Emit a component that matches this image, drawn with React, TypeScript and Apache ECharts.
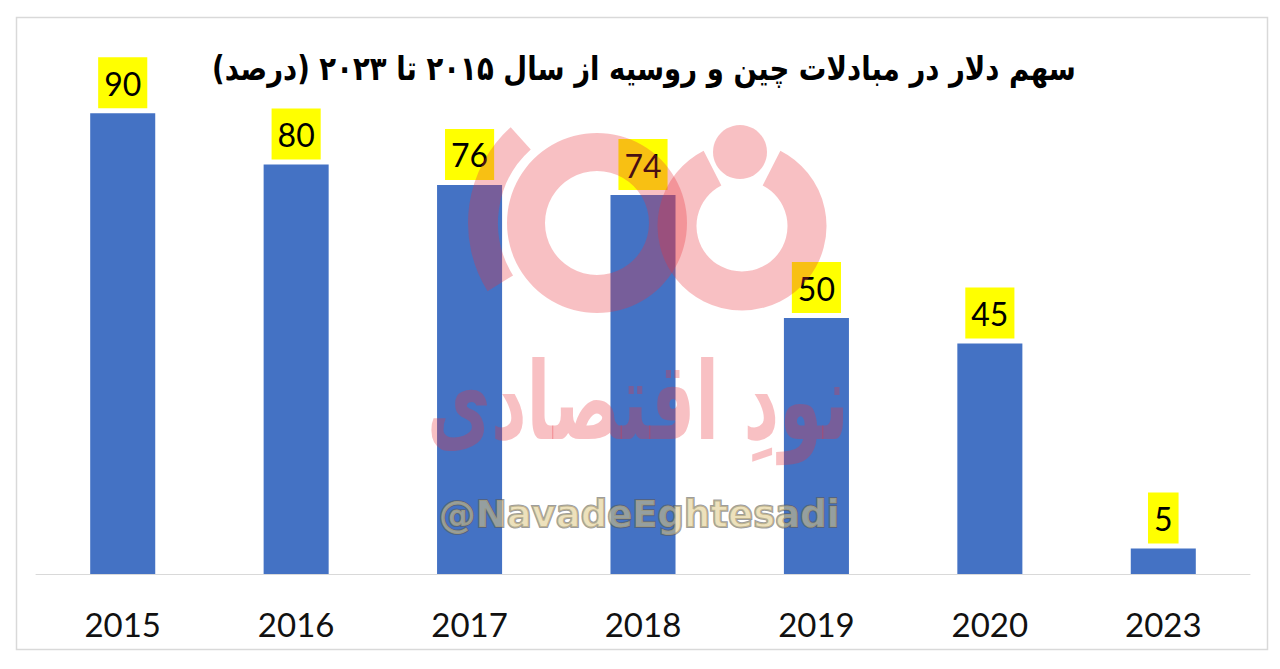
import React, { useEffect, useRef } from "react";
import * as echarts from "echarts";

const titleText = "سهم دلار در مبادلات چین و روسیه از سال ۲۰۱۵ تا ۲۰۲۳ (درصد)";
const categories = ["2015", "2016", "2017", "2018", "2019", "2020", "2023"];
const dollarShare = [90, 80, 76, 74, 50, 45, 5];
const watermarkName = "نودِ اقتصادی";
const watermarkHandle = "@NavadeEghtesadi";

const deg = (d: number) => (d * Math.PI) / 180;
const RED = "rgba(232,51,60,0.31)";

export default function App() {
  const ref = useRef<HTMLDivElement>(null);
  useEffect(() => {
    if (!ref.current) return;
    const chart = echarts.init(ref.current, null, { renderer: "svg" });
    chart.setOption({
      animation: false,
      backgroundColor: "#ffffff",
      grid: { left: 36, right: 30, top: 62, bottom: 95 },
      xAxis: {
        type: "category",
        data: categories,
        axisLine: { show: true, lineStyle: { color: "#d9d9d9", width: 1 } },
        axisTick: { show: false },
        axisLabel: {
          color: "#111",
          fontFamily: "Lato, 'Open Sans', sans-serif",
          fontSize: 33,
          margin: 33,
        },
      },
      yAxis: {
        type: "value",
        min: 0,
        max: 100,
        show: false,
        splitLine: { show: false },
      },
      series: [
        {
          type: "bar",
          data: dollarShare,
          barWidth: "37.5%",
          itemStyle: { color: "#4472C4" },
          label: {
            show: true,
            position: "top",
            distance: 5,
            color: "#000",
            fontFamily: "Lato, 'Open Sans', sans-serif",
            fontSize: 32,
            lineHeight: 40,
            backgroundColor: "#FFFF00",
            padding: [6, 6, 5, 6],
          },
        },
      ],
      graphic: [
        {
          type: "rect",
          shape: { x: 16.5, y: 17.5, width: 1251, height: 632 },
          style: { fill: "none", stroke: "#d9d9d9", lineWidth: 1.5 },
          silent: true,
          z: 0,
        },
        {
          type: "text",
          x: 644,
          y: 69,
          scaleX: 0.95,
          scaleY: 1.15,
          style: {
            text: titleText,
            fill: "#000",
            font: "bold 29px 'DejaVu Sans', sans-serif",
            align: "center",
            verticalAlign: "middle",
          },
          z: 10,
        },
        // watermark logo
        {
          type: "ring",
          shape: { cx: 597, cy: 223, r: 90, r0: 52 },
          style: { fill: RED },
          silent: true,
          z: 100,
        },
        {
          type: "arc",
          shape: { cx: 597, cy: 223, r: 114, startAngle: deg(148), endAngle: deg(228) },
          style: { stroke: RED, lineWidth: 30, fill: "none", lineCap: "butt" },
          silent: true,
          z: 100,
        },
        {
          type: "arc",
          shape: { cx: 742, cy: 226, r: 65, startAngle: deg(297), endAngle: deg(603) },
          style: { stroke: RED, lineWidth: 39, fill: "none", lineCap: "butt" },
          silent: true,
          z: 100,
        },
        {
          type: "circle",
          shape: { cx: 740, cy: 152, r: 27 },
          style: { fill: RED },
          silent: true,
          z: 100,
        },
        {
          type: "text",
          x: 638,
          y: 402,
          scaleX: 0.87,
          scaleY: 1.35,
          style: {
            text: watermarkName,
            fill: RED,
            font: "bold 80px 'DejaVu Sans', sans-serif",
            align: "center",
            verticalAlign: "middle",
          },
          silent: true,
          z: 100,
        },
        {
          type: "text",
          x: 639,
          y: 514,
          style: {
            text: watermarkHandle,
            fill: "rgba(222,200,130,0.55)",
            stroke: "rgba(90,90,90,0.6)",
            lineWidth: 2,
            font: "bold 37px 'DejaVu Sans', sans-serif",
            align: "center",
            verticalAlign: "middle",
          },
          silent: true,
          z: 100,
        },
      ],
    });
    return () => chart.dispose();
  }, []);
  return (
    <div
      ref={ref}
      style={{ position: "absolute", left: 0, top: 0, width: 1280, height: 669 }}
    />
  );
}
